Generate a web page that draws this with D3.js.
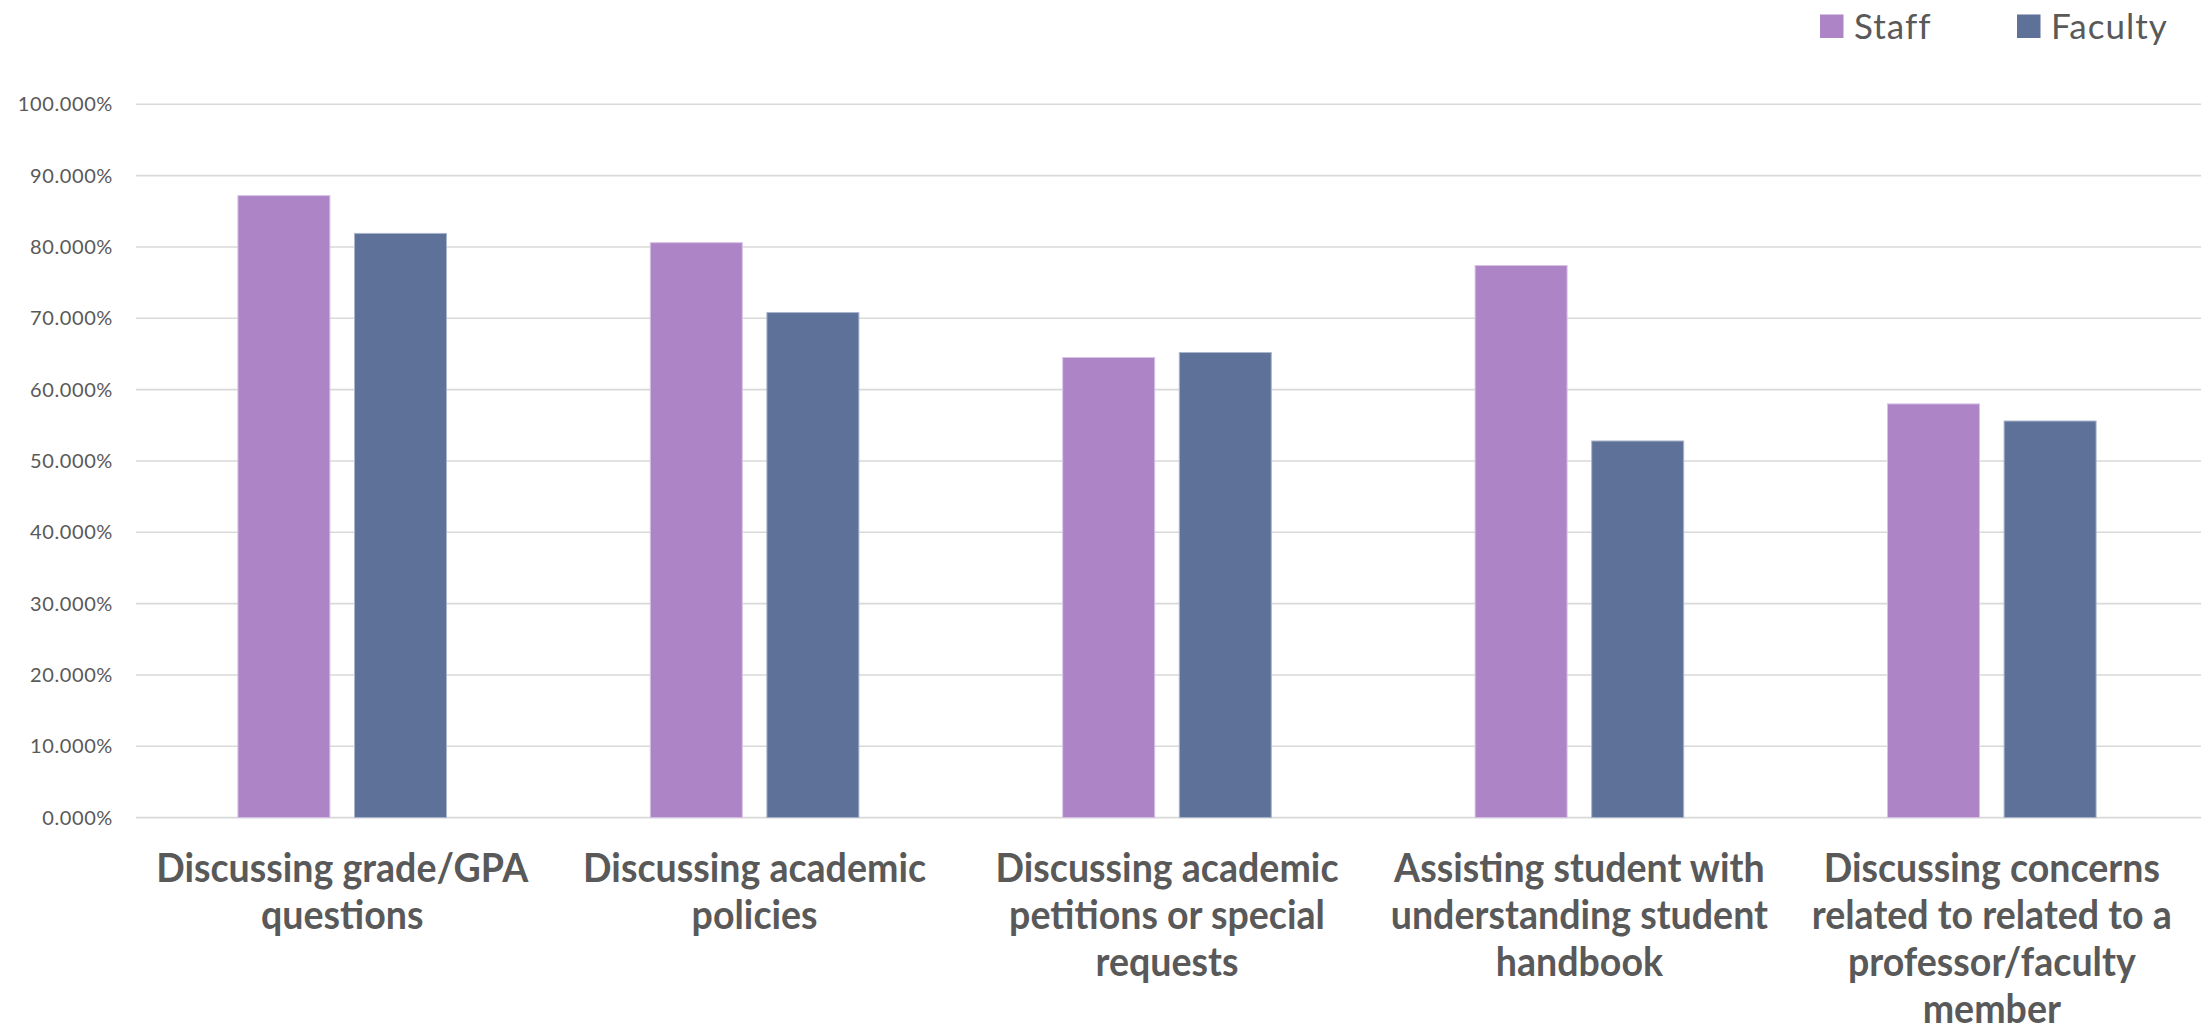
<!DOCTYPE html>
<html>
<head>
<meta charset="utf-8">
<script src="https://cdn.jsdelivr.net/npm/d3@7/dist/d3.min.js"></script>
<style>
  html, body { margin: 0; padding: 0; background: #fff; }
  svg { display: block; }
</style>
</head>
<body>
<svg id="chart" width="2205" height="1032"></svg>
<script>
// Share of respondents reporting each advising activity, by role
const categories = [
  "Discussing grade/GPA questions",
  "Discussing academic policies",
  "Discussing academic petitions or special requests",
  "Assisting student with understanding student handbook",
  "Discussing concerns related to related to a professor/faculty member"
];
const categoryLines = [
  ["Discussing grade/GPA", "questions"],
  ["Discussing academic", "policies"],
  ["Discussing academic", "petitions or special", "requests"],
  ["Assisting student with", "understanding student", "handbook"],
  ["Discussing concerns", "related to related to a", "professor/faculty", "member"]
];
const seriesNames = ["Staff", "Faculty"];
const staffValues   = [87.2, 80.6, 64.5, 77.4, 58.0];
const facultyValues = [81.9, 70.8, 65.2, 52.8, 55.6];
const yTicks = [0, 10, 20, 30, 40, 50, 60, 70, 80, 90, 100];
const seriesColors = ["#AD84C6", "#5E7198"];
const seriesEdges  = ["#D6C3E4", "#AAB6CC"];

const svg = d3.select("#chart");
const textColor = "#595959";

const plotLeft = 136, plotRight = 2198, plotTop = 104.3, plotBottom = 817.6;

const x0 = d3.scaleBand().domain(categories).range([plotLeft, plotRight]).padding(0);
const x1 = d3.scaleBand().domain(seriesNames).range([0, x0.bandwidth()])
  .paddingInner(0.211).paddingOuter(0.874);
const y = d3.scaleLinear().domain([0, 100]).range([plotBottom, plotTop]);

// Horizontal gridlines
svg.append("g")
  .selectAll("line")
  .data(yTicks)
  .join("line")
  .attr("x1", plotLeft).attr("x2", 2201)
  .attr("y1", d => y(d)).attr("y2", d => y(d))
  .attr("stroke", "#D9D9D9")
  .attr("stroke-width", 1.6);

// Y axis labels
const yAxis = d3.axisLeft(y).tickValues(yTicks)
  .tickFormat(d => d3.format(".3f")(d) + "%")
  .tickSize(0).tickPadding(23);
const yG = svg.append("g").attr("transform", `translate(${plotLeft},0)`).call(yAxis);
yG.select(".domain").remove();
yG.selectAll("text")
  .attr("fill", textColor)
  .attr("font-family", "Lato, 'Open Sans', sans-serif")
  .attr("font-size", 20)
  .attr("letter-spacing", 0.6);

// Bars
const rows = categories.map((c, i) => ({ cat: c, vals: [staffValues[i], facultyValues[i]] }));
svg.append("g")
  .selectAll("g")
  .data(rows)
  .join("g")
  .attr("transform", d => `translate(${x0(d.cat)},0)`)
  .selectAll("rect")
  .data(d => d.vals.map((v, j) => ({ s: seriesNames[j], v, j })))
  .join("rect")
  .attr("x", d => x1(d.s))
  .attr("width", x1.bandwidth())
  .attr("y", d => y(d.v))
  .attr("height", d => y(0) - y(d.v))
  .attr("fill", d => seriesColors[d.j])
  .attr("stroke", d => seriesEdges[d.j])
  .attr("stroke-width", 1);

// Category labels (bold, wrapped, centred under each group)
const labelFont = "Lato, 'Open Sans', sans-serif";
const labelG = svg.append("g");
const labels = labelG.selectAll("text")
  .data(categories)
  .join("text")
  .attr("font-family", labelFont)
  .attr("font-weight", 700)
  .attr("font-size", 40)
  .attr("fill", textColor)
  .attr("text-anchor", "middle");
labels.each(function (d, i) {
  const t = d3.select(this);
  categoryLines[i].forEach((line, k) => {
    t.append("tspan").attr("x", 0).attr("y", 0).attr("dy", k * 47).text(line);
  });
});
// condense the glyphs to a Calibri-like width
const probe = labelG.append("text")
  .attr("font-family", labelFont).attr("font-weight", 700).attr("font-size", 40)
  .text("Discussing academic");
const squeeze = 343 / probe.node().getComputedTextLength();
probe.remove();
labels.attr("transform", d => `translate(${x0(d) + x0.bandwidth() / 2},882) scale(${squeeze},1)`);

// Legend
const legendX = [1820, 2017];
const legend = svg.append("g");
seriesNames.forEach((name, j) => {
  legend.append("rect")
    .attr("x", legendX[j]).attr("y", 14.5)
    .attr("width", 23.5).attr("height", 23.5)
    .attr("fill", seriesColors[j]);
  legend.append("text")
    .attr("x", legendX[j] + 34).attr("y", 38.5)
    .attr("font-family", "Lato, 'Open Sans', sans-serif")
    .attr("font-size", 35)
    .attr("letter-spacing", 1)
    .attr("fill", textColor)
    .text(name);
});
</script>
</body>
</html>
